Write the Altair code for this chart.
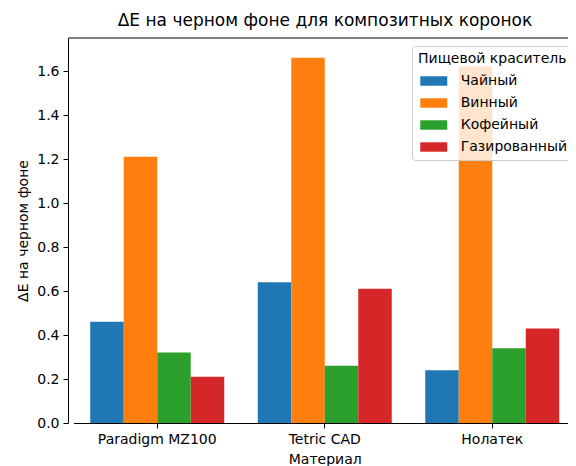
import altair as alt
import pandas as pd

materials = ["Paradigm MZ100", "Tetric CAD", "Нолатек"]
dyes = ["Чайный", "Винный", "Кофейный", "Газированный"]
tea = [0.46, 0.64, 0.24]
wine = [1.21, 1.66, 1.62]
coffee = [0.32, 0.26, 0.34]
soda = [0.21, 0.61, 0.43]
colors = ["#1f77b4", "#ff7f0e", "#2ca02c", "#d62728"]
y_ticks = [0.0, 0.2, 0.4, 0.6, 0.8, 1.0, 1.2, 1.4, 1.6]

series = [tea, wine, coffee, soda]
rows = []
for dye, vals in zip(dyes, series):
    for m, v in zip(materials, vals):
        rows.append({"Материал": m, "Краситель": dye, "dE": v})
df = pd.DataFrame(rows)

FONT = "DejaVu Sans"

bars = alt.Chart(df).mark_bar(strokeWidth=0).encode(
    x=alt.X("Материал:N", sort=materials,
            scale=alt.Scale(range=[5.5, 508], paddingInner=0, paddingOuter=0),
            axis=alt.Axis(title="Материал", labelAngle=0, labelFontSize=14,
                          titleFontSize=14, tickSize=5, labelPadding=4,
                          titlePadding=6, domainColor="#000", tickColor="#000",
                          labelColor="#000", titleColor="#000",
                          titleFontWeight="normal", labelFont=FONT, titleFont=FONT)),
    xOffset=alt.XOffset("Краситель:N", sort=dyes,
                        scale=alt.Scale(paddingInner=0, paddingOuter=0.5)),
    y=alt.Y("dE:Q", scale=alt.Scale(domain=[0, 1.75], nice=False),
            axis=alt.Axis(title="ΔE на черном фоне", values=y_ticks, format=".1f",
                          labelFontSize=14, titleFontSize=14, tickSize=5,
                          labelPadding=4, titlePadding=6, grid=False,
                          domainColor="#000", tickColor="#000", labelColor="#000",
                          titleColor="#000", titleFontWeight="normal",
                          labelFont=FONT, titleFont=FONT)),
    color=alt.Color("Краситель:N", sort=dyes,
                    scale=alt.Scale(domain=dyes, range=colors),
                    legend=alt.Legend(
                        title="Пищевой краситель", orient="none",
                        legendX=344, legendY=8,
                        titleFontSize=14, labelFontSize=14,
                        titleFontWeight="normal", titleFont=FONT, labelFont=FONT,
                        titleColor="#000", labelColor="#000",
                        symbolType="M-2,-0.7L2,-0.7L2,0.7L-2,0.7Z",
                        symbolSize=182, symbolStrokeWidth=0,
                        symbolOffset=8.75, labelOffset=20,
                        rowPadding=8, titlePadding=8, padding=6,
                        fillColor="rgba(255,255,255,0.8)", strokeColor="#cccccc",
                        cornerRadius=3)),
)

frame = alt.Chart(pd.DataFrame({"a": [0]})).mark_rule(color="#000", strokeWidth=1).encode(
    x=alt.value(0), x2=alt.value(500), y=alt.value(0)
)

chart = alt.layer(bars, frame).properties(
    width=500, height=385,
    autosize=alt.AutoSizeParams(type="none"),
    padding={"left": 60, "top": 30, "right": 0, "bottom": 43},
    title=alt.TitleParams("ΔE на черном фоне для композитных коронок",
                          fontSize=17, font=FONT, fontWeight="normal",
                          color="#000", anchor="middle", offset=8, dx=7),
).configure_view(stroke=None)

chart.save("out.html", embed_options={"renderer": "svg", "actions": False})
